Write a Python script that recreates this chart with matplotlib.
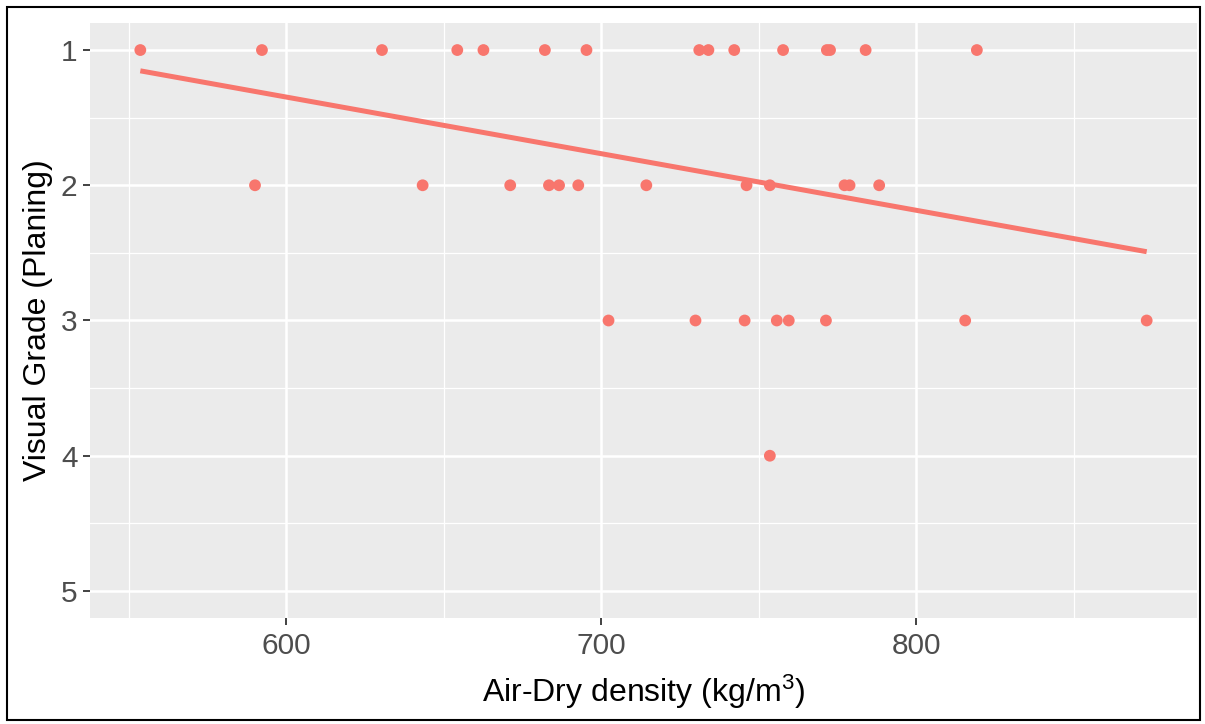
import numpy as np
import matplotlib
matplotlib.use('Agg')
import matplotlib.pyplot as plt
from matplotlib.patches import Rectangle

plt.rcParams['font.family'] = ['Liberation Sans', 'DejaVu Sans']
plt.rcParams['mathtext.fontset'] = 'custom'
plt.rcParams['mathtext.rm'] = 'Liberation Sans'
plt.rcParams['mathtext.default'] = 'regular'

# density readings grouped by visual grade
grade1_density = [553.7, 592.3, 630.4, 654.3, 662.6, 682.1, 695.3, 731.1, 734.0,
                  742.2, 757.7, 771.6, 772.6, 783.9, 819.2]
grade2_density = [590.1, 643.3, 671.1, 683.4, 686.6, 692.7, 714.3, 746.1, 753.5,
                  777.2, 778.8, 788.2]
grade3_density = [702.3, 729.9, 745.5, 755.7, 759.5, 771.3, 815.5, 873.1]
grade4_density = [753.5]

density = np.array(grade1_density + grade2_density + grade3_density + grade4_density)
grade = np.array([1] * len(grade1_density) + [2] * len(grade2_density)
                 + [3] * len(grade3_density) + [4] * len(grade4_density))

x_ticks = [600, 700, 800]
y_ticks = [1, 2, 3, 4, 5]

col = '#F8766D'

fig = plt.figure(figsize=(12.05, 7.24), dpi=100)
ax = fig.add_axes([90 / 1205, 1 - 618 / 724, (1197 - 90) / 1205, (618 - 23) / 724])
ax.set_facecolor('#EBEBEB')

# linear fit like geom_smooth(method='lm', se=FALSE)
slope, intercept = np.polyfit(density, grade, 1)
xs = np.array([density.min(), density.max()])
ax.plot(xs, intercept + slope * xs, color=col, lw=3.6, solid_capstyle='butt', zorder=3)

ax.scatter(density, grade, s=72, color=col, edgecolors='none', zorder=4)

rng = density.max() - density.min()
ax.set_xlim(density.min() - 0.05 * rng, density.max() + 0.05 * rng)
ax.set_ylim(5.2, 0.8)

ax.set_xticks(x_ticks)
ax.set_xticks([550, 650, 750, 850], minor=True)
ax.set_yticks(y_ticks)
ax.set_yticks([1.5, 2.5, 3.5, 4.5], minor=True)
ax.grid(which='major', color='white', lw=1.8)
ax.grid(which='minor', color='white', lw=0.9)
ax.set_axisbelow(True)
for s in ax.spines.values():
    s.set_visible(False)

ax.tick_params(which='major', length=5, width=1.3, color='#333333',
               labelcolor='#4D4D4D', labelsize=21.5, pad=4)
ax.tick_params(axis='x', which='major', pad=5)
ax.tick_params(which='minor', length=0)

ax.set_xlabel('Air-Dry density (kg/m$^3$)', fontsize=23, labelpad=9)
ax.set_ylabel('Visual Grade (Planing)', fontsize=23, labelpad=6)

fig.patches.append(Rectangle((7 / 1205, 4 / 724), 1193 / 1205, 713 / 724,
                             transform=fig.transFigure, fill=False,
                             edgecolor='black', lw=1.5))

fig.savefig('out.png', dpi=100)
